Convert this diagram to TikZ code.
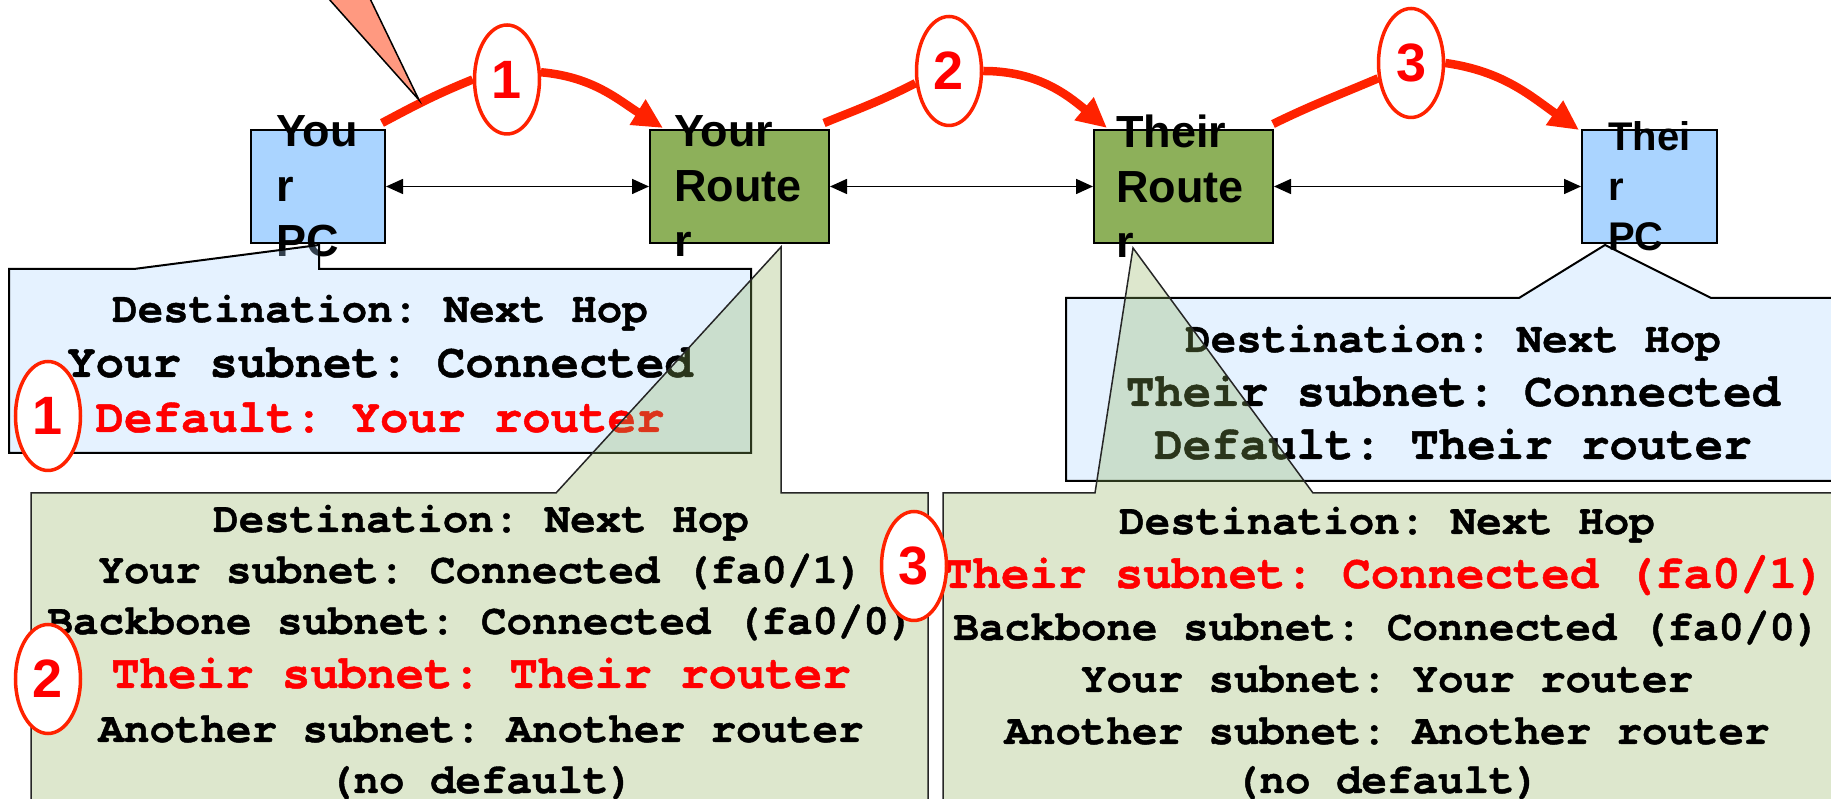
\documentclass[tikz,border=0pt]{standalone}
\usepackage{fontspec}
\setmainfont{Liberation Sans}
\newfontfamily\routefont[BoldFeatures={FakeBold=1}]{TeX Gyre Cursor}
\usetikzlibrary{shapes.geometric,arrows.meta,calc}
\pgfdeclarelayer{hops}
\pgfsetlayers{hops,main}
\frenchspacing

\definecolor{pcblue}{HTML}{AAD4FF}
\definecolor{rtgreen}{HTML}{8DB05A}
\definecolor{hopred}{HTML}{FF2200}
\definecolor{salmon}{HTML}{FF9980}

\tikzset{
  device/.style={draw=black, line width=2pt, minimum height=113pt, inner sep=0pt},
  pcbox/.style={device, fill=pcblue, minimum width=134pt},
  routerbox/.style={device, fill=rtgreen, minimum width=179pt},
  devlabel/.style={anchor=west, align=left, inner sep=0pt,
    font=\bfseries\fontsize{45pt}{55pt}\selectfont},
  link/.style={{Triangle[length=17pt,width=15pt]}-{Triangle[length=17pt,width=15pt]}, line width=1.6pt},
  hopline/.style={draw=hopred, line width=8.5pt},
  hophead/.style={hopline, -{Triangle[length=30pt,width=28pt]}},
  hopmark/.style={ellipse, draw=hopred, line width=3.5pt, fill=white,
    minimum width=65pt, minimum height=109pt, inner sep=0pt, text=red,
    font=\bfseries\fontsize{54pt}{54pt}\selectfont},
  pcnote/.style={fill=pcblue, fill opacity=0.3, draw=black, line width=2pt},
  rtnote/.style={fill=rtgreen, fill opacity=0.3, draw=black!85, line width=1.5pt},
  row/.style={anchor=base, inner sep=0pt,
    font=\routefont\bfseries\fontsize{42.5pt}{52pt}\selectfont},
  bigrow/.style={row, font=\routefont\bfseries\fontsize{47.4pt}{52pt}\selectfont},
  hot/.style={text=red},
}

\begin{document}
\begin{tikzpicture}[x=1pt,y=1pt]
\useasboundingbox (0,0) rectangle (1831,799);

% pointer of a callout coming in from above
\filldraw[fill=salmon, draw=black, line width=1.5pt]
  (312,819) -- (419,699) -- (361,819);

% devices
\node[pcbox] (ypc) at (318,612.5) {};
\node[routerbox] (yrt) at (739.5,612.5) {};
\node[routerbox] (trt) at (1183.5,612.5) {};
\node[pcbox, minimum width=135pt] (tpc) at (1649.5,612.5) {};

\node[devlabel] (ypcl) at ($(ypc.west)+(26,0)$) {You\\r\\PC};
\node[devlabel] (yrtl) at ($(yrt.west)+(25,0)$) {Your\\Route\\r};
\node[devlabel] (trtl) at ($(trt.west)+(23,0)$) {Their\\Route\\r};
\node[devlabel, font=\bfseries\fontsize{40pt}{50pt}\selectfont] (tpcl)
  at ($(tpc.west)+(27,0)$) {Thei\\r\\PC};

% links
\draw[link] (ypc) -- (yrt);
\draw[link] (yrt) -- (trt);
\draw[link] (trt) -- (tpc);

% hops
\node[hopmark] (h1) at (507,719.5) {1};
\node[hopmark] (h2) at (949,728) {2};
\node[hopmark] (h3) at (1411,736) {3};

\begin{pgfonlayer}{hops}
\draw[hopline] ($(ypc.north east)+(-4,6)$) to[out=28,in=202] (h1.west);
\draw[hophead] (h1.12) to[out=-5,in=148] ($(yrt.north west)+(14,1)$);
\draw[hopline] ($(yrt.north east)+(-6,6)$) to[out=22,in=207] (h2.200);
\draw[hophead] (h2.east) to[out=0,in=140] ($(trt.north west)+(14,1)$);
\draw[hopline] ($(trt.north east)+(-1,5)$) to[out=26,in=203] (h3.205);
\draw[hophead] (h3.east) to[out=-8,in=145] ($(tpc.north west)+(-2,-1)$);
\end{pgfonlayer}

% routing table of your PC
\path[pcnote] (9,530) -- (134,530) -- (319,554) -- (319,530) -- (751,530)
  -- (751,346) -- (9,346) -- cycle;
\node[row] (ypc1) at (380,477) {Destination: Next Hop};
\node[bigrow] (ypc2) at (380,422) {Your subnet: Connected};
\node[bigrow,hot] (ypc3) at (380,367) {Default: Your router};

% routing table of their PC
\path[pcnote] (1066,501) -- (1519,501) -- (1605,554) -- (1711,501) -- (1850,501)
  -- (1850,318) -- (1066,318) -- cycle;
\node[row] (tpc1) at (1453,447) {Destination: Next Hop};
\node[bigrow] (tpc2) at (1453,393) {Their subnet: Connected};
\node[bigrow] (tpc3) at (1453,340) {Default: Their router};

% routing table of your router
\path[rtnote] (31,-21) -- (31,306) -- (556,306) -- (781,552) -- (781,306)
  -- (928,306) -- (928,-21);
\node[row] (yrt1) at (481,267) {Destination: Next Hop};
\node[row] (yrt2) at (481,216) {Your subnet: Connected (fa0/1)};
\node[row] (yrt3) at (481,165) {Backbone subnet: Connected (fa0/0)};
\node[bigrow,hot] (yrt4) at (481,111) {Their subnet: Their router};
\node[row] (yrt5) at (481,57) {Another subnet: Another router};
\node[row] (yrt6) at (481,6) {(no default)};

% routing table of their router
\path[rtnote] (943,-21) -- (943,306) -- (1095,306) -- (1133,551) -- (1313,306)
  -- (1850,306) -- (1850,-21);
\node[row] (trt1) at (1387,265) {Destination: Next Hop};
\node[bigrow,hot] (trt2) at (1385,211) {Their subnet: Connected (fa0/1)};
\node[row] (trt3) at (1387,159) {Backbone subnet: Connected (fa0/0)};
\node[row] (trt4) at (1387,107) {Your subnet: Your router};
\node[row] (trt5) at (1387,55) {Another subnet: Another router};
\node[row] (trt6) at (1387,6) {(no default)};

% hop marks beside the table entries used
\node[hopmark] (n1) at (48,383) {1};
\node[hopmark] (n2) at (48,120) {2};
\node[hopmark] (n3) at (914,233) {3};
\end{tikzpicture}
\end{document}
